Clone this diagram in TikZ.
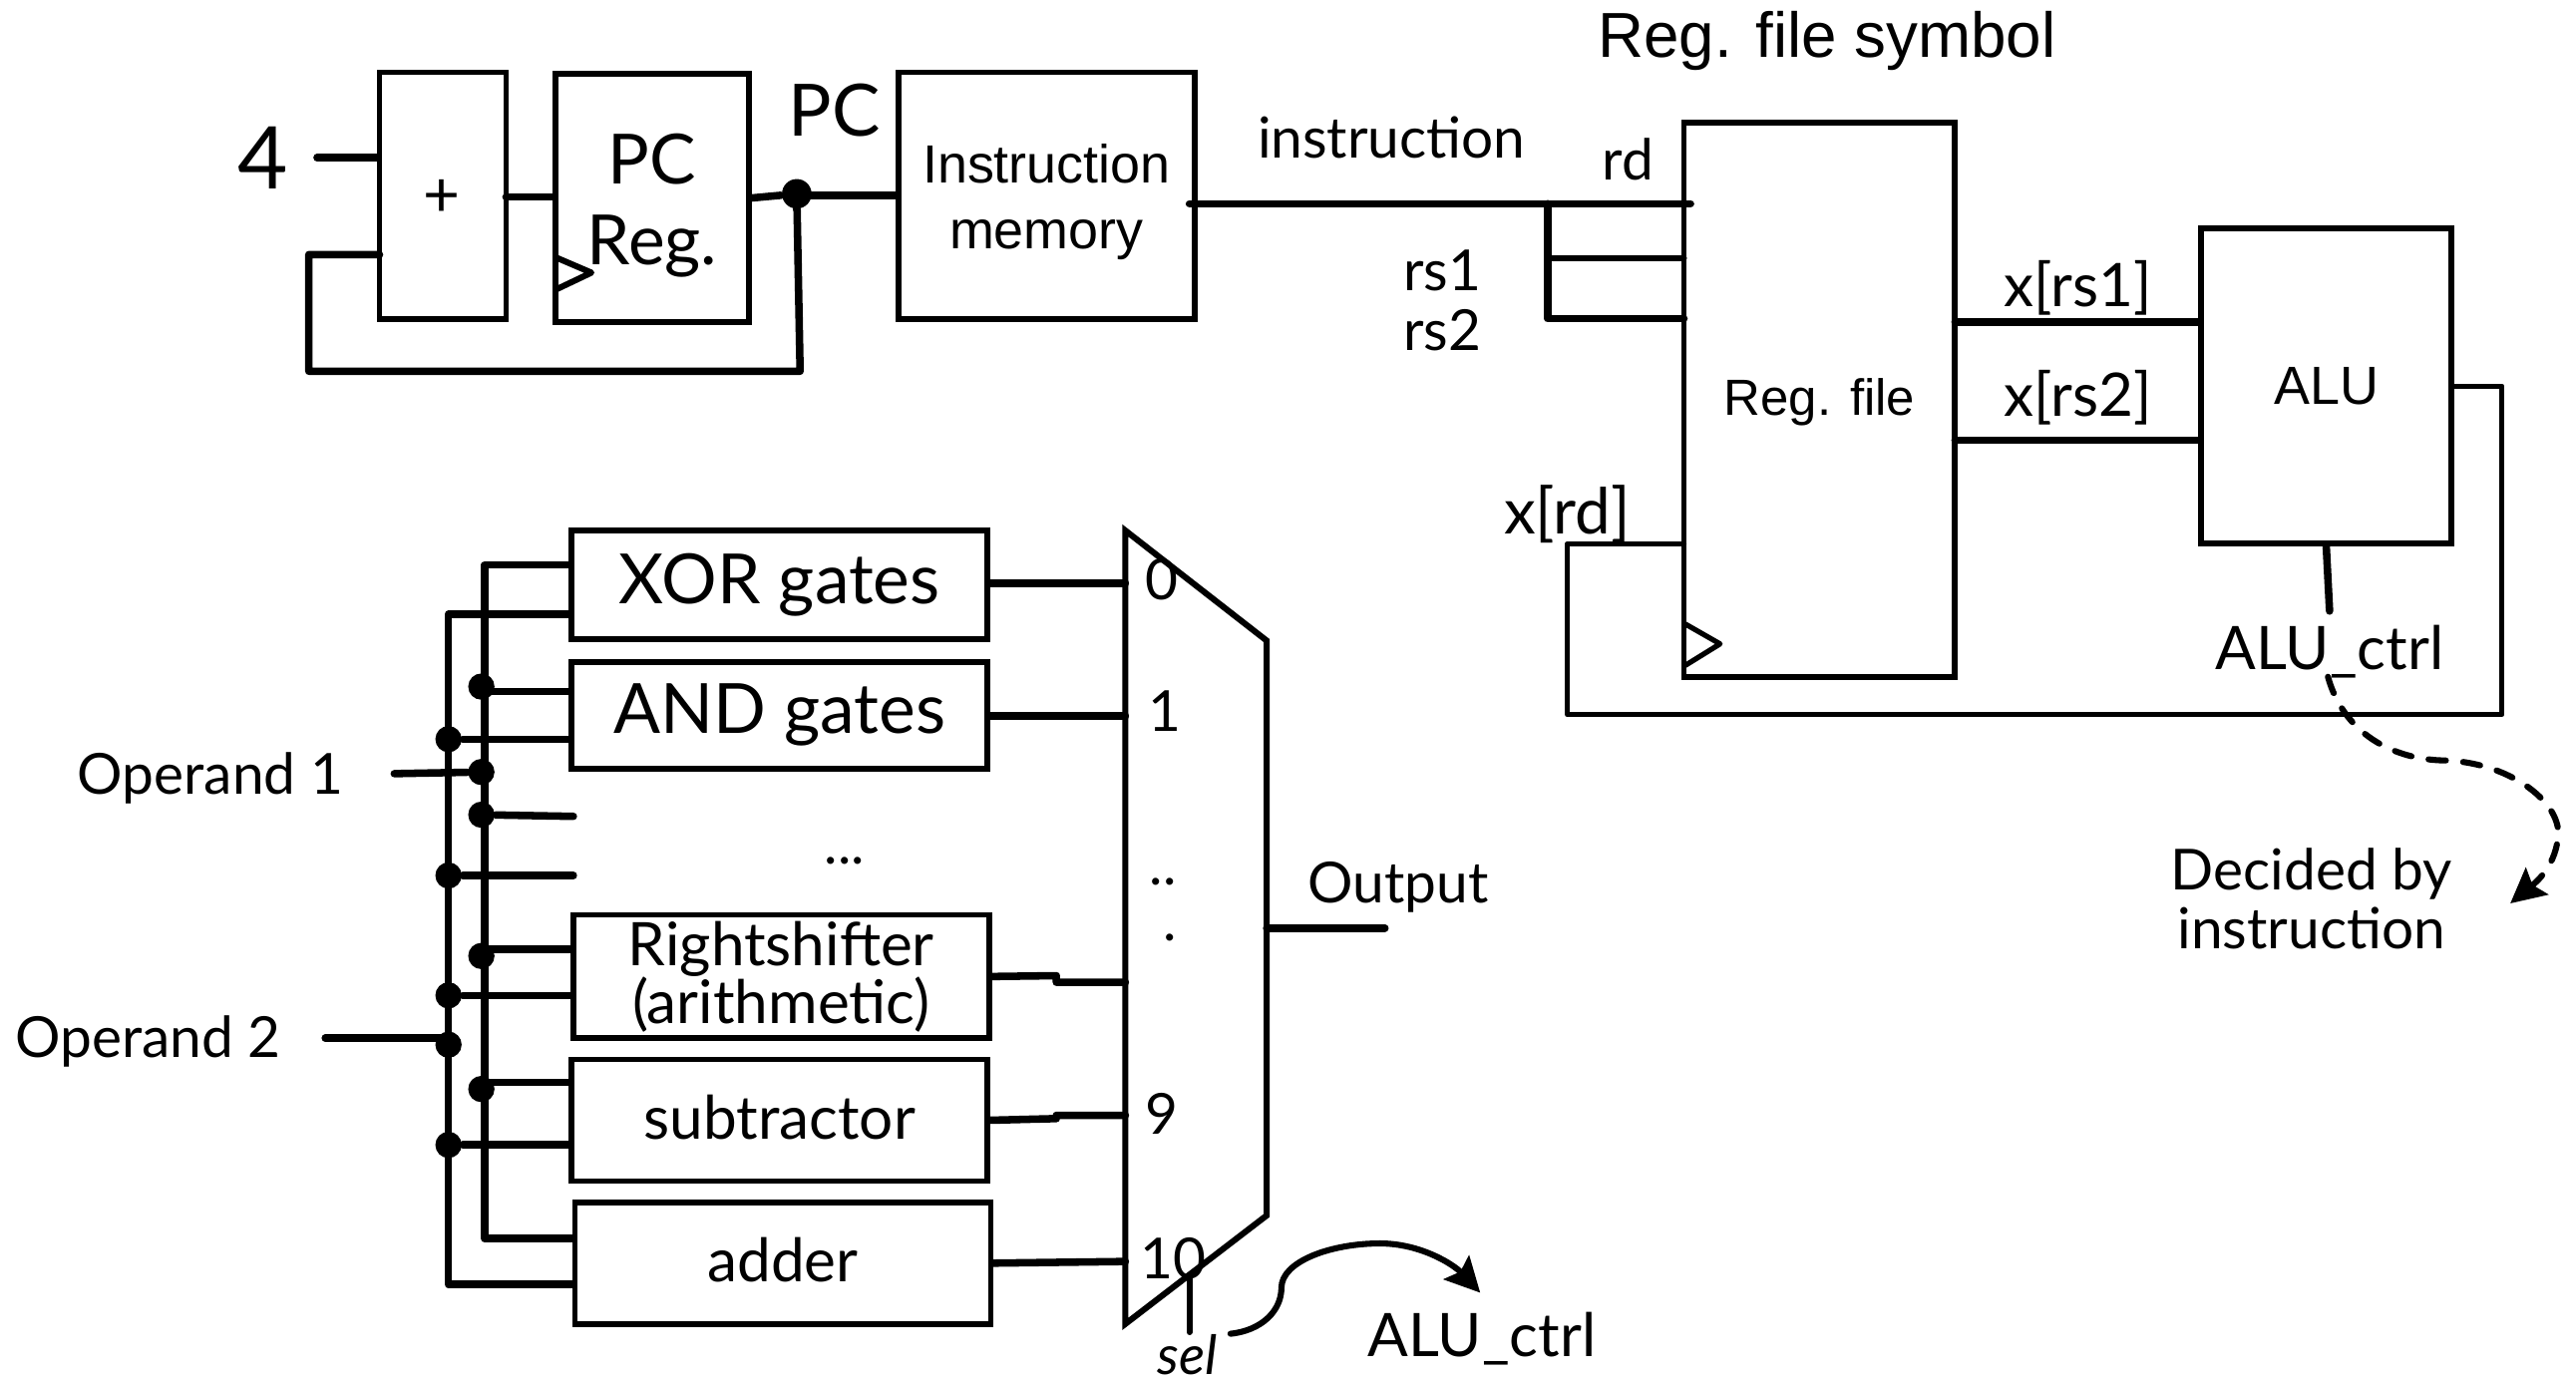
\documentclass[tikz,border=0pt]{standalone}
\usepackage{fontspec}
\usetikzlibrary{arrows.meta}
\setmainfont{Liberation Sans}
\newfontfamily\handfont{Lato}
\tikzset{
  wire/.style={line width=1.05pt, line cap=round, line join=round},
  thinwire/.style={line width=0.9pt, line cap=round, line join=round},
  heavy/.style={line width=1.3pt, line cap=round, line join=round},
  blockbox/.style={draw, line width=1pt, inner sep=0pt, align=center},
  dot/.style={circle, fill, inner sep=0pt, minimum size=0.16cm},
  armtext/.style={inner sep=0pt, align=center, font=\fontsize{9.3}{11.4}\selectfont},
  handtext/.style={inner sep=0pt, align=center, font=\handfont\fontsize{9.8}{10}\selectfont},
  handwide/.style={inner sep=0pt, align=center, font=\handfont\fontsize{10.4}{10}\selectfont},
  handbig/.style={inner sep=0pt, font=\handfont\fontsize{12}{14}\selectfont},
  handhuge/.style={inner sep=0pt, align=center, font=\handfont\fontsize{12}{14}\selectfont}
}

\begin{document}
\begin{tikzpicture}[>={Stealth[length=6pt,width=6pt,inset=1pt]}, x=0.01cm, y=-0.01cm]

\useasboundingbox (0,0) rectangle (1568,840.8);

% PC loop and instruction memory
\node[blockbox, minimum width=0.77cm, minimum height=1.5cm] (adder4) at (269.5,119) {};
\node[blockbox, minimum width=1.18cm, minimum height=1.51cm] (pcreg) at (397,120.5) {};
\node[blockbox, minimum width=1.8cm, minimum height=1.5cm] (imem) at (637,119) {};
\node[handtext, font=\handfont\fontsize{11}{11}\selectfont] (plus) at (269,121) {+};
\node[handhuge] (pctext) at (397,125) {PC\\Reg.};
\node[armtext] (imemtext) at (637,123) {Instruction\\memory};
\node[dot, minimum size=0.18cm] (pcdot) at (485,118) {};
\node[handhuge, font=\handfont\fontsize{15}{15}\selectfont] (four) at (160,96) {4};
\node[handhuge, font=\handfont\fontsize{12.5}{14}\selectfont] (pclabel) at (508,67) {PC};

\coordinate (fourpin) at (193,96);
\coordinate (addout) at (308,120);
\coordinate (addin) at (231,155);
\coordinate (pcbusa) at (188,155);
\coordinate (pcbusb) at (188,226);
\coordinate (pcbusc) at (487,226);

\draw[heavy] (fourpin) -- (fourpin -| adder4.west);
\draw[heavy] (addout) -- (addout -| pcreg.west);
\draw[heavy] (pcreg.east) -- (pcdot) -- (pcdot |- imem.east);
\draw[heavy] (pcdot |- imem.east) -- (imem.west);
\draw[heavy] (addin) -- (pcbusa) -- (pcbusb) -- (pcbusc) -- (pcdot);
\draw[wire] (339,157) -- (360,166) -- (339,176);

% Reg. file symbol
\node[armtext, font=\fontsize{11}{12}\selectfont] (regtitle) at (1112,25) {Reg. file symbol};
\node[blockbox, minimum width=1.65cm, minimum height=3.37cm] (regfile) at (1107.5,243.5) {};
\node[armtext, font=\fontsize{8.8}{10}\selectfont] (regtext) at (1107.5,245) {Reg. file};
\node[blockbox, minimum width=1.52cm, minimum height=1.92cm, armtext, draw] (alu) at (1416,235) {ALU};
\node[handtext] (instrlabel) at (847,84) {instruction};
\node[handtext] (rdlabel) at (991,97) {rd};
\node[handtext] (rsalabel) at (878,165) {rs1};
\node[handtext] (rsblabel) at (878,201) {rs2};
\node[handwide] (xrsa) at (1265,175) {x[rs1]};
\node[handwide] (xrsb) at (1265,242) {x[rs2]};
\node[handwide, font=\handfont\fontsize{11}{10}\selectfont] (xrd) at (954,313) {x[rd]};
\node[handwide] (aluctrl) at (1418,397) {ALU\_ctrl};
\node[handtext] (decideda) at (1407,532) {Decided by};
\node[handtext] (decidedb) at (1407,565) {instruction};

\coordinate (imemout) at (724,124);
\coordinate (rdpin) at (1029,124);
\coordinate (split) at (942,124);
\coordinate (rsapin) at (1025,157);
\coordinate (rsbpin) at (1025,194);
\coordinate (regouta) at (1190,196);
\coordinate (regoutb) at (1190,268);
\coordinate (wbpin) at (1025,331);
\coordinate (wba) at (954,331);
\coordinate (wbb) at (954,435);
\coordinate (wbc) at (1523,435);
\coordinate (wbd) at (1523,235);
\coordinate (ctrlstub) at (1418,372);
\coordinate (ctrlfrom) at (1417,412);
\coordinate (ctrlto) at (1528,550);

\draw[heavy] (imemout) -- (rdpin);
\draw[heavy] (split) -- (split |- rsbpin) -- (rsbpin);
\draw[wire] (split |- rsapin) -- (rsapin);
\draw[heavy] (regouta) -- (regouta -| alu.west);
\draw[heavy] (regoutb) -- (regoutb -| alu.west);
\draw[thinwire] (wbpin) -- (wba) -- (wbb) -- (wbc) -- (wbd) -- (alu.east);
\draw[heavy] (alu.south) -- (ctrlstub);
\draw[thinwire] (1026,380) -- (1047,392) -- (1026,405);
\draw[wire, dashed, ->] (ctrlfrom) .. controls (1426,445) and (1455,463) .. (1490,463)
  .. controls (1530,465) and (1560,490) .. (1557,510)
  .. controls (1555,530) and (1540,540) .. (ctrlto);

% Operation blocks
\node[blockbox, minimum width=2.53cm, minimum height=0.66cm, handbig] (xorgates) at (474.5,356) {XOR gates};
\node[blockbox, minimum width=2.53cm, minimum height=0.65cm, handbig] (andgates) at (474.5,435.5) {AND gates};
\node[blockbox, minimum width=2.53cm, minimum height=0.75cm, handwide, draw] (shifter) at (475.5,594.5) {Rightshifter\\(arithmetic)};
\node[blockbox, minimum width=2.53cm, minimum height=0.74cm] (subtr) at (474.5,682) {};
\node[blockbox, minimum width=2.53cm, minimum height=0.74cm] (adder) at (476.5,769) {};
\node[handwide] (subtext) at (474.5,680) {subtractor};
\node[handwide] (addtext) at (476.5,767) {adder};
\node[handtext] (moredots) at (514,524) {...};
\node[handtext] (opa) at (128,474) {Operand 1};
\node[handtext] (opb) at (90,634) {Operand 2};

% Operand buses
\coordinate (busatop) at (295,344);
\coordinate (busabot) at (295,754);
\coordinate (busbtop) at (273,374);
\coordinate (busbbot) at (273,782);
\coordinate (opapin) at (240,471);
\coordinate (opbpin) at (198,632);
\coordinate (gapa) at (349,497);
\coordinate (gapb) at (349,533);
\coordinate (andpin) at (295,421);
\coordinate (shiftpin) at (295,578);
\coordinate (subpin) at (295,659);

\node[dot] (da1) at (293,418) {};
\node[dot] (da2) at (293,470) {};
\node[dot] (da3) at (293,496) {};
\node[dot] (da4) at (293,582) {};
\node[dot] (da5) at (293,663) {};
\node[dot] (db1) at (273,450) {};
\node[dot] (db2) at (273,533) {};
\node[dot] (db3) at (273,606) {};
\node[dot] (db4) at (273,636) {};
\node[dot] (db5) at (273,697) {};

\draw[heavy] (busatop -| xorgates.west) -- (busatop) -- (busabot) -- (busabot -| adder.west);
\draw[heavy] (busbtop -| xorgates.west) -- (busbtop) -- (busbbot) -- (busbbot -| adder.west);
\draw[heavy] (andpin) -- (andpin -| andgates.west);
\draw[heavy] (db1) -- (db1 -| andgates.west);
\draw[heavy] (opapin) -- (da2);
\draw[heavy] (da3) -- (gapa);
\draw[heavy] (db2) -- (gapb);
\draw[heavy] (shiftpin) -- (shiftpin -| shifter.west);
\draw[heavy] (db3) -- (db3 -| shifter.west);
\draw[heavy] (opbpin) -- (opbpin -| db4);
\draw[heavy] (subpin) -- (subpin -| subtr.west);
\draw[heavy] (db5) -- (db5 -| subtr.west);

% Mux
\coordinate (muxa) at (685,323);
\coordinate (muxb) at (771,390);
\coordinate (muxc) at (771,740);
\coordinate (muxd) at (685,806);
\draw[wire, line join=miter] (muxa) -- (muxb) -- (muxc) -- (muxd) -- cycle;

\node[handtext] (mzero) at (707,353) {0};
\node[handtext] (mone) at (709,433) {1};
\node[handtext] (mdotsa) at (708,537) {..};
\node[handtext] (mdotsb) at (712,571) {.};
\node[handtext] (mnine) at (707,678) {9};
\node[handtext] (mten) at (714,766) {10};
\node[handtext] (outlabel) at (851,540) {Output};
\node[handtext, font=\handfont\itshape\fontsize{9.4}{10}\selectfont] (sel) at (723,825) {sel};
\node[handwide] (muxctrl) at (902,815) {ALU\_ctrl};

\coordinate (mzeropin) at (685,355);
\coordinate (monepin) at (685,436);
\coordinate (mshift) at (685,598);
\coordinate (mninepin) at (685,679);
\coordinate (mtenpin) at (685,768);
\coordinate (muxout) at (771,565);
\coordinate (outend) at (843,565);
\coordinate (seltop) at (724,776);
\coordinate (selbot) at (724,811);
\coordinate (selfrom) at (749,812);
\coordinate (selto) at (901,787);

\draw[heavy] (xorgates.east |- mzeropin) -- (mzeropin);
\draw[heavy] (andgates.east |- monepin) -- (monepin);
\draw[heavy] (shifter.east) -- (643,594) -- (643,598) -- (mshift);
\draw[heavy] (subtr.east) -- (643,681) -- (643,679) -- (mninepin);
\draw[heavy] (adder.east) -- (mtenpin);
\draw[heavy] (muxout) -- (outend);
\draw[wire] (seltop) -- (selbot);
\draw[wire, ->] (selfrom) .. controls (768,810) and (780,798) .. (780,784)
  .. controls (780,768) and (810,757) .. (840,757)
  .. controls (865,757) and (885,770) .. (selto);

\end{tikzpicture}
\end{document}
